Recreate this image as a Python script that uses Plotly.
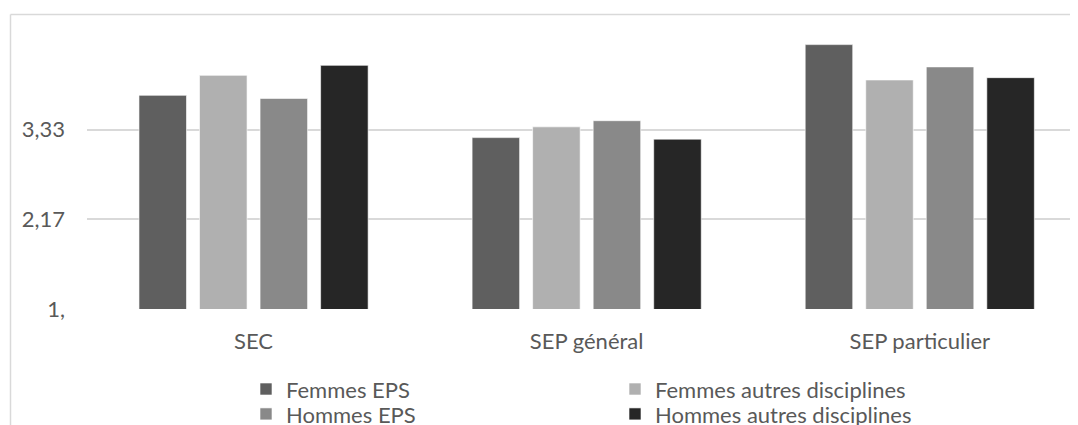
import plotly.graph_objects as go

categories = ["SEC", "SEP général", "SEP particulier"]
series_names = ["Femmes EPS", "Femmes autres disciplines", "Hommes EPS", "Hommes autres disciplines"]
femmes_eps = [3.78, 3.23, 4.44]
femmes_autres = [4.04, 3.37, 3.98]
hommes_eps = [3.74, 3.45, 4.15]
hommes_autres = [4.17, 3.21, 4.01]
tick_vals = [1.0, 2.1667, 3.3333]
tick_text = ["1,", "2,17", "3,33"]

colors = ["#5f5f5f", "#b0b0b0", "#898989", "#262626"]
values = [femmes_eps, femmes_autres, hommes_eps, hommes_autres]
legend_ids = ["legend", "legend2", "legend3", "legend4"]
# legend text start (x) and row centre (y), in figure pixels
legend_pos = [(278, 382), (647, 382), (278, 407), (647, 407)]

FONT = "Lato"
TXT = "#595959"
FS = 22

W, H = 1070, 417
L, R, T, B = 79, 0, 31.5, 115.5
PW, PH = W - L - R, H - T - B

def px_x(p):
    return (p - L) / PW

def px_y(p):
    return (H - B - p) / PH

fig = go.Figure()
for name, vals, col, lg in zip(series_names, values, colors, legend_ids):
    fig.add_trace(go.Bar(
        x=categories, y=vals, name=name, legend=lg,
        marker=dict(color=col, line=dict(color="rgba(255,255,255,0.6)", width=1)),
    ))

legend_layout = {}
for lg, (tx, ty) in zip(legend_ids, legend_pos):
    legend_layout[lg] = dict(
        x=px_x(tx - 40), y=px_y(ty), xanchor="left", yanchor="middle",
        orientation="v", font=dict(family=FONT, size=FS, color=TXT),
        bgcolor="rgba(0,0,0,0)", tracegroupgap=0, itemwidth=30,
    )

fig.update_layout(
    width=W, height=H,
    margin=dict(l=L, r=R, t=T, b=B, autoexpand=False),
    paper_bgcolor="white", plot_bgcolor="white",
    barmode="group", bargap=0.273, bargroupgap=0.215,
    font=dict(family=FONT, size=FS, color=TXT),
    xaxis=dict(
        type="category", range=[-0.5, 2.475], showgrid=False, zeroline=False,
        showline=False, ticks="", ticklabelstandoff=17,
        tickfont=dict(family=FONT, size=FS, color=TXT),
    ),
    yaxis=dict(
        range=[1, 4.5], tickvals=tick_vals, ticktext=tick_text,
        showgrid=True, gridcolor="#d9d9d9", gridwidth=2,
        zeroline=False, showline=False, ticks="", ticklabelstandoff=21,
        tickfont=dict(family=FONT, size=FS, color=TXT),
    ),
    shapes=[
        dict(type="line", xref="paper", yref="paper",
             x0=px_x(2.5), x1=px_x(W + 5), y0=px_y(6), y1=px_y(6),
             line=dict(color="#d9d9d9", width=1.5)),
        dict(type="line", xref="paper", yref="paper",
             x0=px_x(2.5), x1=px_x(2.5), y0=px_y(6), y1=px_y(H + 5),
             line=dict(color="#d9d9d9", width=1.5)),
    ],
    showlegend=True,
    **legend_layout,
)

fig.write_html("out.html")
